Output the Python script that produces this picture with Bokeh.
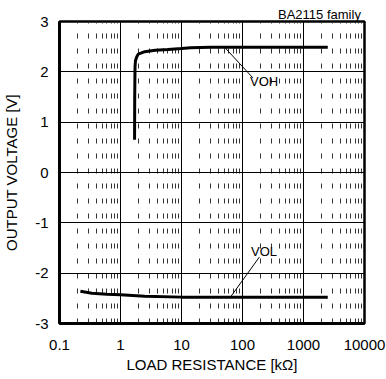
from bokeh.plotting import figure
from bokeh.models import FixedTicker, CustomJSTickFormatter, Range1d, Label
from bokeh.embed import file_html
from bokeh.resources import INLINE

# ---- data ----
x_ticks = [0.1, 1, 10, 100, 1000, 10000]
x_tick_labels = ["0.1", "1", "10", "100", "1000", "10000"]
y_ticks = [-3, -2, -1, 0, 1, 2, 3]
y_tick_labels = ["-3", "-2", "-1", "0", "1", "2", "3"]
decades = [0.1, 1, 10, 100, 1000]
minor_mult = [2, 3, 4, 5, 6, 7, 8, 9]

voh_r = [1.70, 1.71, 1.73, 1.76, 1.85, 1.95, 2.5, 3.7, 6.0, 10, 14, 30, 100, 1000, 2500]
voh_v = [0.65, 1.50, 2.10, 2.22, 2.30, 2.35, 2.40, 2.43, 2.445, 2.465, 2.48, 2.49, 2.49, 2.49, 2.49]

vol_r = [0.22, 0.34, 0.6, 1.0, 2.5, 10, 30, 100, 1000, 2500]
vol_v = [-2.36, -2.40, -2.42, -2.43, -2.46, -2.476, -2.48, -2.48, -2.48, -2.48]

voh_leader_r = [50.7, 148]
voh_leader_v = [2.49, 1.88]
vol_leader_r = [63.5, 189]
vol_leader_v = [-2.475, -1.68]

voh_label = ("VOH", 133, 1.80)
vol_label = ("VOL", 138, -1.56)
chart_note = "BA2115  family"
x_title = "LOAD RESISTANCE [kΩ]"
y_title = "OUTPUT VOLTAGE [V]"

FONT = "Liberation Sans"
minor_x = [d * m for d in decades for m in minor_mult]

p = figure(width=386, height=379, x_axis_type="log",
           x_range=Range1d(0.1, 10000), y_range=Range1d(-3, 3),
           output_backend="svg", toolbar_location=None,
           min_border_left=57, min_border_right=22,
           min_border_top=21, min_border_bottom=56)
p.background_fill_color = "white"
p.border_fill_color = "white"
p.outline_line_color = "black"
p.outline_line_width = 2.5

# title (top right note)
p.title.text = chart_note
p.title.align = "right"
p.title.text_font = FONT
p.title.text_font_size = "13px"
p.title.text_font_style = "normal"
p.title.text_color = "black"
p.title.standoff = 0
p.title.offset = 0

# axes
p.xaxis.ticker = FixedTicker(ticks=x_ticks, minor_ticks=[])
p.xaxis.formatter = CustomJSTickFormatter(args=dict(tvals=x_ticks, tlabels=x_tick_labels), code="""
const i = tvals.findIndex(t => Math.abs(Math.log10(t) - Math.log10(tick)) < 1e-6);
return i >= 0 ? tlabels[i] : '';
""")
p.yaxis.ticker = FixedTicker(ticks=y_ticks, minor_ticks=[])
p.yaxis.formatter = CustomJSTickFormatter(args=dict(tvals=y_ticks, tlabels=y_tick_labels), code="""
const i = tvals.findIndex(t => Math.abs(t - tick) < 1e-6);
return i >= 0 ? tlabels[i] : '';
""")
for ax in (p.xaxis[0], p.yaxis[0]):
    ax.axis_line_width = 3
    ax.axis_line_color = "black"
    ax.major_tick_in = 0
    ax.major_tick_out = 0
    ax.minor_tick_in = 0
    ax.minor_tick_out = 0
    ax.major_label_text_font = FONT
    ax.major_label_text_font_size = "15px"
    ax.major_label_text_color = "black"
    ax.axis_label_text_font = FONT
    ax.axis_label_text_font_size = "15px"
    ax.axis_label_text_font_style = "normal"
    ax.axis_label_text_color = "black"
p.xaxis.axis_label = x_title
p.yaxis.axis_label = y_title
p.xaxis.major_label_standoff = 16
p.xaxis.axis_label_standoff = 3
p.yaxis.major_label_standoff = 11
p.yaxis.axis_label_standoff = 12

# grids
p.xgrid.ticker = FixedTicker(ticks=x_ticks, minor_ticks=minor_x)
p.xgrid.grid_line_color = "black"
p.xgrid.grid_line_width = 1
p.xgrid.minor_grid_line_color = "#333333"
p.xgrid.minor_grid_line_width = 1
p.xgrid.minor_grid_line_dash = "5 10"
p.ygrid.ticker = FixedTicker(ticks=y_ticks, minor_ticks=[])
p.ygrid.grid_line_color = "black"
p.ygrid.grid_line_width = 1

# curves
p.line(voh_r, voh_v, line_color="black", line_width=3)
p.line(vol_r, vol_v, line_color="black", line_width=3)
p.line(voh_leader_r, voh_leader_v, line_color="black", line_width=1)
p.line(vol_leader_r, vol_leader_v, line_color="black", line_width=1)

for txt, xr, yv in (voh_label, vol_label):
    p.add_layout(Label(x=xr, y=yv, text=txt, text_font=FONT, text_font_size="13px",
                       text_color="black", text_align="left", text_baseline="middle"))

open("out.html", "w").write(file_html(p, INLINE))
